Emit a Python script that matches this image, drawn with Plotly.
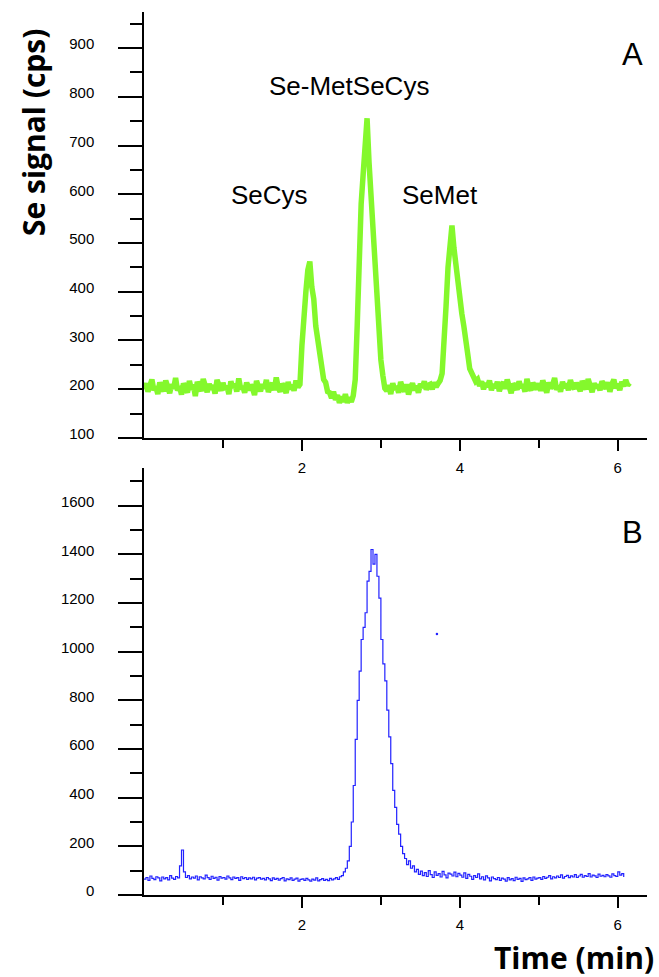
import plotly.graph_objects as go

# time step of the recorded chromatograms (min)
step = 0.025

# panel A: Se signal (cps), one value every 0.025 min from 0 to 6.15
signal_a = [
    200, 212, 195, 208, 220, 198, 205, 190, 214, 203, 196, 218, 207, 192, 210, 201, 223, 197, 206, 189,
    212, 204, 193, 217, 199, 209, 186, 215, 202, 196, 221, 205, 194, 211, 200, 208, 191, 219, 204, 197,
    213, 199, 207, 190, 216, 203, 211, 195, 222, 200, 206, 193, 214, 198, 209, 202, 188, 217, 205, 196,
    210, 201, 219, 194, 207, 212, 198, 224, 203, 195, 211, 206, 192, 215, 200, 209, 197, 218, 204, 210,
    290, 360, 400, 445, 462, 410, 385, 330, 305, 265, 250, 220, 214, 195, 193, 182, 195, 178, 188, 172,
    185, 174, 190, 172, 183, 174, 187, 220, 330, 470, 580, 640, 700, 756, 665, 595, 515, 445, 375, 325,
    260, 228, 202, 197, 208, 190, 212, 199, 206, 193, 215, 202, 196, 210, 189, 204, 212, 198, 207, 193,
    211, 203, 216, 199, 208, 210, 200, 214, 205, 212, 218, 232, 290, 370, 450, 510, 536, 490, 455, 410,
    395, 355, 330, 290, 272, 242, 233, 220, 216, 220, 207, 216, 200, 212, 205, 218, 198, 210, 203, 215,
    196, 209, 214, 201, 220, 205, 192, 211, 207, 199, 216, 203, 210, 195, 221, 204, 198, 213, 206, 200,
    212, 197, 218, 205, 193, 214, 202, 209, 223, 199, 207, 195, 215, 203, 211, 198, 219, 206, 201, 213,
    204, 196, 217, 208, 200, 221, 205, 194, 212, 203, 209, 198, 216, 207, 201, 214, 195, 210, 220, 202,
    211, 198, 215, 206, 219, 208, 213,
]

# panel B: Se signal (cps), one value every 0.025 min from 0 to 6.075
signal_b = [
    65, 72, 60, 78, 68, 63, 75, 70, 58, 74, 66, 71, 62, 80, 69, 64, 76, 70, 120, 185,
    95, 72, 80, 66, 74, 69, 78, 62, 75, 70, 66, 82, 71, 64, 77, 68, 73, 61, 76, 69,
    72, 65, 78, 70, 63, 74, 68, 71, 60, 75, 67, 72, 64, 70, 66, 73, 62, 69, 71, 65,
    68, 62, 72, 66, 59, 70, 64, 68, 61, 67, 72, 58, 66, 63, 70, 60, 65, 69, 57, 64,
    66, 60, 68, 62, 57, 65, 61, 70, 58, 63, 67, 60, 64, 59, 68, 62, 66, 71, 64, 75,
    80, 95, 110, 140, 200, 300, 450, 640, 800, 920, 1050, 1100, 1160, 1290, 1330, 1420, 1360, 1400, 1310, 1220,
    1050, 950, 880, 760, 650, 540, 430, 360, 290, 250, 200, 170, 150, 125, 140, 110, 120, 95, 105, 85,
    98, 80, 92, 76, 100, 84, 72, 95, 81, 88, 74, 97, 83, 70, 90, 86, 78, 94, 75, 89,
    82, 73, 91, 68, 85, 77, 64, 80, 72, 87, 66, 75, 62, 79, 70, 58, 74, 67, 63, 72,
    60, 69, 65, 57, 71, 62, 67, 59, 73, 64, 68, 56, 70, 63, 66, 72, 60, 74, 65, 69,
    71, 64, 76, 68, 73, 80, 66, 75, 70, 78, 72, 83, 69, 76, 81, 71, 79, 74, 84, 72,
    78, 85, 73, 80, 76, 88, 74, 82, 79, 72, 86, 77, 81, 75, 84, 79, 73, 87, 80, 76,
    95, 82, 88, 74,
]

# lone stray point in panel B
stray_time = [3.71]
stray_signal = [1073]

time_a = [i * step for i in range(len(signal_a))]
time_b = [i * step for i in range(len(signal_b))]

peak_names = ["SeCys", "Se-MetSeCys", "SeMet"]
peak_label_x = [1.595, 2.595, 3.75]
peak_label_y = [598, 822, 598]

x_ticks = [2, 4, 6]
y_ticks_a = [100, 200, 300, 400, 500, 600, 700, 800, 900]
y_ticks_b = [0, 200, 400, 600, 800, 1000, 1200, 1400, 1600]

fig = go.Figure()
fig.add_trace(go.Scatter(x=time_a, y=signal_a, mode="lines",
                         line=dict(color="#84f82c", width=5.5), xaxis="x", yaxis="y"))
fig.add_trace(go.Scatter(x=time_b, y=signal_b, mode="lines", line_shape="hv",
                         line=dict(color="#2222ff", width=1.2), xaxis="x2", yaxis="y2"))
fig.add_trace(go.Scatter(x=stray_time, y=stray_signal, mode="markers",
                         marker=dict(color="#2222ff", size=2.5), xaxis="x2", yaxis="y2"))

tickfont = dict(family="Liberation Sans, Arial", size=15, color="black")
xaxis_style = dict(range=[0, 6.37], showline=True, linecolor="black", linewidth=1.5,
                   showgrid=False, zeroline=False, ticks="outside", ticklen=11, tickwidth=1.5,
                   tickcolor="black", tickvals=x_ticks, tickfont=tickfont, ticklabelstandoff=4,
                   minor=dict(tickvals=[1, 3, 5], ticks="outside", ticklen=8, tickwidth=1.5,
                              tickcolor="black"))
yaxis_style = dict(showline=True, linecolor="black", linewidth=1.5, showgrid=False,
                   zeroline=False, ticks="outside", ticklen=24, tickwidth=1.5, tickcolor="black",
                   tickfont=tickfont, ticklabelstandoff=21, ticklabelshift=-4)

fig.update_layout(
    width=659, height=977,
    margin=dict(l=144, r=12, t=12, b=82),
    plot_bgcolor="white", paper_bgcolor="white",
    showlegend=False,
    xaxis=dict(xaxis_style, anchor="y"),
    yaxis=dict(yaxis_style, domain=[0.5176, 1], range=[100, 974], tickvals=y_ticks_a,
               minor=dict(tick0=150, dtick=100, ticks="outside", ticklen=12, tickwidth=1.5,
                          tickcolor="black")),
    xaxis2=dict(xaxis_style, anchor="y2"),
    yaxis2=dict(yaxis_style, domain=[0, 0.4836], range=[0, 1755], tickvals=y_ticks_b,
                minor=dict(tick0=100, dtick=200, ticks="outside", ticklen=12, tickwidth=1.5,
                           tickcolor="black")),
)

label_font = dict(family="Liberation Sans, Arial", size=26, color="black")
for name, lx, ly in zip(peak_names, peak_label_x, peak_label_y):
    fig.add_annotation(x=lx, y=ly, xref="x", yref="y", text=name, showarrow=False, font=label_font)

fig.add_annotation(x=6.18, y=886, xref="x", yref="y", text="A", showarrow=False,
                   font=dict(family="Liberation Sans, Arial", size=31, color="black"))
fig.add_annotation(x=6.18, y=1490, xref="x2", yref="y2", text="B", showarrow=False,
                   font=dict(family="Liberation Sans, Arial", size=31, color="black"))

title_font = dict(family="Open Sans", size=30, color="black", weight="bold")
fig.add_annotation(x=-0.2207, y=0.864, xref="paper", yref="paper", text="Se signal (cps)",
                   textangle=-90, xanchor="center", yanchor="middle", showarrow=False,
                   font=title_font)
fig.add_annotation(x=1.018, y=-0.0713, xref="paper", yref="paper", text="Time (min)",
                   xanchor="right", yanchor="middle", showarrow=False, font=title_font)

# drop the page's default body margin so the figure sits at the window's corner
fig.write_html("out.html", config={"displayModeBar": False},
               post_script="document.body.style.margin='0';")
